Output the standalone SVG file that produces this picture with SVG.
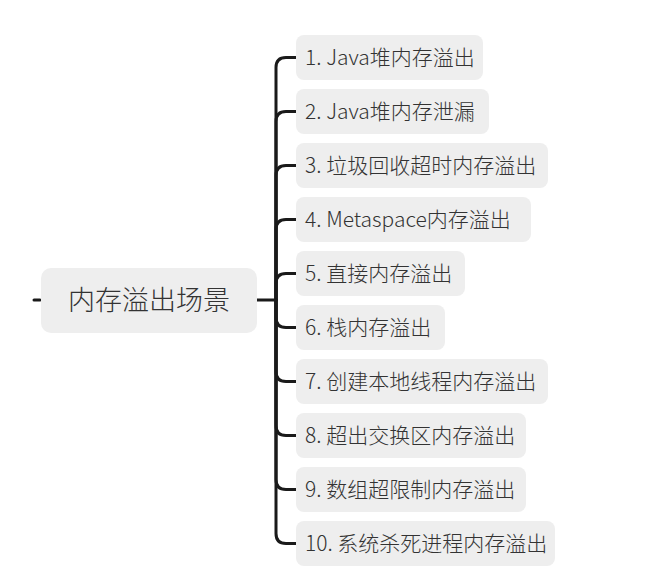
<svg xmlns="http://www.w3.org/2000/svg" width="650" height="579" viewBox="0 0 650 579">
<style>
.box{fill:#eeeeee}
.t{font-family:"Noto Sans CJK SC","Noto Sans",sans-serif;font-size:21px;font-weight:300;fill:#333333}
.rt{font-family:"Noto Sans CJK SC","Noto Sans",sans-serif;font-size:27px;font-weight:300;fill:#333333}
.c{fill:none;stroke:#1a1a1a;stroke-width:3;stroke-linecap:round;stroke-linejoin:round}
</style>
<rect width="650" height="579" fill="#ffffff"/>
<g id="connectors">
<path class="c" d="M34 300 H40"/>
<path class="c" d="M257 300 H276"/>
<path class="c" d="M296 57.5 H286 Q276 57.5 276 67.5 V300"/>
<path class="c" d="M296 111.5 H286 Q276 111.5 276 121.5 V300"/>
<path class="c" d="M296 165.5 H286 Q276 165.5 276 175.5 V300"/>
<path class="c" d="M296 219.5 H286 Q276 219.5 276 229.5 V300"/>
<path class="c" d="M296 273.5 H286 Q276 273.5 276 283.5 V300"/>
<path class="c" d="M296 327.5 H286 Q276 327.5 276 317.5 V300"/>
<path class="c" d="M296 381.5 H286 Q276 381.5 276 371.5 V300"/>
<path class="c" d="M296 435.5 H286 Q276 435.5 276 425.5 V300"/>
<path class="c" d="M296 489.5 H286 Q276 489.5 276 479.5 V300"/>
<path class="c" d="M296 543.5 H286 Q276 543.5 276 533.5 V300"/>
</g>
<g id="root">
<rect class="box" x="41" y="268" width="216" height="65" rx="10"/>
<text class="rt" x="149" y="310" text-anchor="middle">内存溢出场景</text>
</g>
<g id="n1"><rect class="box" x="296" y="35" width="187" height="45" rx="8"/><text class="t" x="305" y="65">1. Java堆内存溢出</text></g>
<g id="n2"><rect class="box" x="296" y="89" width="193" height="45" rx="8"/><text class="t" x="305" y="119">2. Java堆内存泄漏</text></g>
<g id="n3"><rect class="box" x="296" y="143" width="252" height="45" rx="8"/><text class="t" x="305" y="173">3. 垃圾回收超时内存溢出</text></g>
<g id="n4"><rect class="box" x="296" y="197" width="235" height="45" rx="8"/><text class="t" x="305" y="227">4. Metaspace内存溢出</text></g>
<g id="n5"><rect class="box" x="296" y="251" width="169" height="45" rx="8"/><text class="t" x="305" y="281">5. 直接内存溢出</text></g>
<g id="n6"><rect class="box" x="296" y="305" width="149" height="45" rx="8"/><text class="t" x="305" y="335">6. 栈内存溢出</text></g>
<g id="n7"><rect class="box" x="296" y="359" width="252" height="45" rx="8"/><text class="t" x="305" y="389">7. 创建本地线程内存溢出</text></g>
<g id="n8"><rect class="box" x="296" y="413" width="230" height="45" rx="8"/><text class="t" x="305" y="443">8. 超出交换区内存溢出</text></g>
<g id="n9"><rect class="box" x="296" y="467" width="230" height="45" rx="8"/><text class="t" x="305" y="497">9. 数组超限制内存溢出</text></g>
<g id="n10"><rect class="box" x="296" y="521" width="259" height="45" rx="8"/><text class="t" x="305" y="551">10. 系统杀死进程内存溢出</text></g>
</svg>
